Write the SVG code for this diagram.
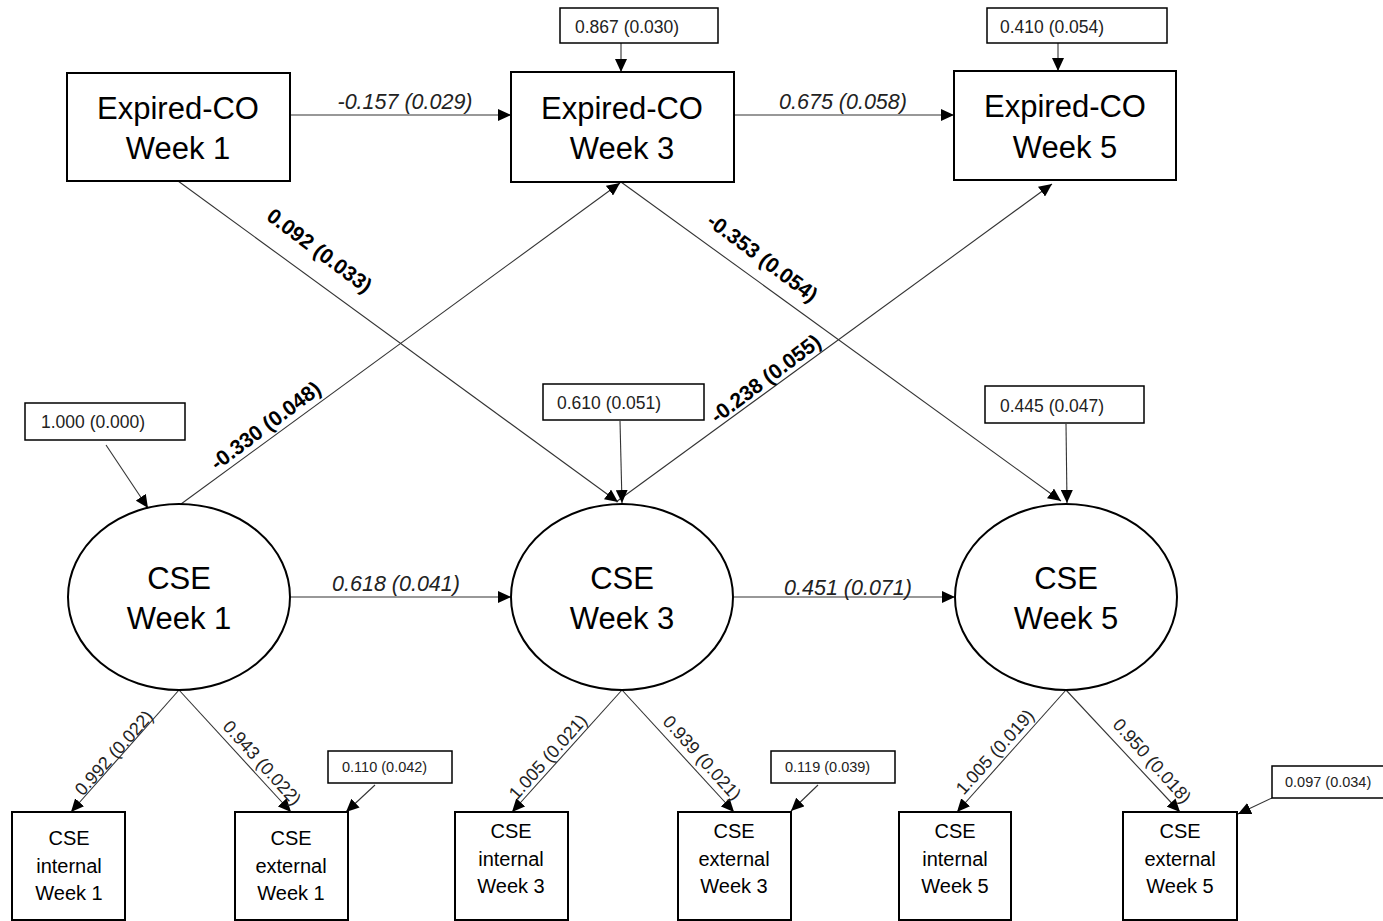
<svg xmlns="http://www.w3.org/2000/svg" width="1383" height="921" viewBox="0 0 1383 921">
<style>
  .box { fill: #fff; stroke: #000; stroke-width: 2; }
  .res { fill: #fff; stroke: #000; stroke-width: 1.5; }
  .big { font-family: "Liberation Sans", Arial, sans-serif; font-size: 31px; fill: #000; text-anchor: middle; }
  .ind { font-family: "Liberation Sans", Arial, sans-serif; font-size: 20px; fill: #000; text-anchor: middle; }
  .rl { font-family: "Liberation Sans", Arial, sans-serif; font-size: 17.5px; fill: #222; }
  .rs { font-family: "Liberation Sans", Arial, sans-serif; font-size: 14.5px; fill: #222; }
  .hl { font-family: "Liberation Sans", Arial, sans-serif; font-size: 21.5px; font-style: italic; fill: #222; text-anchor: middle; }
  .bl { font-family: "Liberation Sans", Arial, sans-serif; font-size: 21px; font-weight: bold; fill: #000; text-anchor: middle; }
  .ll { font-family: "Liberation Sans", Arial, sans-serif; font-size: 18px; fill: #222; text-anchor: middle; }
  .edge { stroke: #333; stroke-width: 1.1; fill: none; marker-end: url(#ah); }
</style>
<defs>
  <marker id="ah" markerUnits="userSpaceOnUse" markerWidth="14" markerHeight="12" refX="13" refY="6" orient="auto">
    <path d="M0,0 L13,6 L0,12 Z" fill="#000"/>
  </marker>
</defs>
<rect x="0" y="0" width="1383" height="921" fill="#fff"/>

<g id="connectors">
  <line class="edge" x1="290" y1="115" x2="511" y2="115"/>
  <line class="edge" x1="734" y1="115" x2="954" y2="115"/>
  <line class="edge" x1="621" y1="43" x2="621" y2="72"/>
  <line class="edge" x1="1058" y1="43" x2="1058" y2="71"/>
  <line class="edge" x1="178" y1="181" x2="618" y2="502"/>
  <line class="edge" x1="181" y1="504" x2="620" y2="183"/>
  <line class="edge" x1="621" y1="182" x2="1061" y2="501"/>
  <line class="edge" x1="616" y1="502" x2="1052" y2="184"/>
  <line class="edge" x1="106" y1="445" x2="148" y2="508"/>
  <line class="edge" x1="620" y1="421" x2="622" y2="503"/>
  <line class="edge" x1="1066" y1="424" x2="1067" y2="503"/>
  <line class="edge" x1="290" y1="597" x2="511" y2="597"/>
  <line class="edge" x1="734" y1="597" x2="955" y2="597"/>
  <line class="edge" x1="179" y1="690" x2="71" y2="812"/>
  <line class="edge" x1="179" y1="690" x2="291" y2="812"/>
  <line class="edge" x1="622" y1="690" x2="512" y2="812"/>
  <line class="edge" x1="622" y1="690" x2="734" y2="812"/>
  <line class="edge" x1="1066" y1="690" x2="957" y2="812"/>
  <line class="edge" x1="1066" y1="690" x2="1180" y2="812"/>
  <line class="edge" x1="375" y1="785" x2="346" y2="812"/>
  <line class="edge" x1="818" y1="785" x2="791" y2="811"/>
  <line class="edge" x1="1272" y1="798" x2="1238" y2="814"/>

  <text class="hl" x="405" y="109">-0.157 (0.029)</text>
  <text class="hl" x="843" y="109">0.675 (0.058)</text>
  <text class="hl" x="396" y="591">0.618 (0.041)</text>
  <text class="hl" x="848" y="595">0.451 (0.071)</text>

  <text class="bl" transform="translate(320,250) rotate(37)" y="8">0.092 (0.033)</text>
  <text class="bl" transform="translate(265,425) rotate(-37)" y="8">-0.330 (0.048)</text>
  <text class="bl" transform="translate(763,257) rotate(37)" y="8">-0.353 (0.054)</text>
  <text class="bl" transform="translate(765,378) rotate(-37)" y="8">-0.238 (0.055)</text>

  <text class="ll" transform="translate(114,753) rotate(-48)" y="6">0.992 (0.022)</text>
  <text class="ll" transform="translate(262,763) rotate(48)" y="6">0.943 (0.022)</text>
  <text class="ll" transform="translate(548,757) rotate(-48)" y="6">1.005 (0.021)</text>
  <text class="ll" transform="translate(702,758) rotate(48)" y="6">0.939 (0.021)</text>
  <text class="ll" transform="translate(995,752) rotate(-48)" y="6">1.005 (0.019)</text>
  <text class="ll" transform="translate(1152,761) rotate(48)" y="6">0.950 (0.018)</text>
</g>

<g id="res-co3"><rect class="res" x="560" y="8" width="158" height="35"/><text class="rl" x="575" y="33">0.867 (0.030)</text></g>
<g id="res-co5"><rect class="res" x="987" y="8" width="180" height="35"/><text class="rl" x="1000" y="33">0.410 (0.054)</text></g>
<g id="res-cse1"><rect class="res" x="25" y="403" width="160" height="37"/><text class="rl" x="41" y="428">1.000 (0.000)</text></g>
<g id="res-cse3"><rect class="res" x="543" y="384" width="161" height="36"/><text class="rl" x="557" y="409">0.610 (0.051)</text></g>
<g id="res-cse5"><rect class="res" x="985" y="386" width="159" height="37"/><text class="rl" x="1000" y="412">0.445 (0.047)</text></g>
<g id="res-ext1"><rect class="res" x="328" y="751" width="124" height="32"/><text class="rs" x="342" y="772">0.110 (0.042)</text></g>
<g id="res-ext3"><rect class="res" x="771" y="751" width="124" height="32"/><text class="rs" x="785" y="772">0.119 (0.039)</text></g>
<g id="res-ext5"><rect class="res" x="1272" y="766" width="113" height="32"/><text class="rs" x="1285" y="787">0.097 (0.034)</text></g>

<g id="co1"><rect class="box" x="67" y="73" width="223" height="108"/><text class="big" x="178" y="119">Expired-CO</text><text class="big" x="178" y="159">Week 1</text></g>
<g id="co3"><rect class="box" x="511" y="72" width="223" height="110"/><text class="big" x="622" y="119">Expired-CO</text><text class="big" x="622" y="159">Week 3</text></g>
<g id="co5"><rect class="box" x="954" y="71" width="222" height="109"/><text class="big" x="1065" y="117">Expired-CO</text><text class="big" x="1065" y="158">Week 5</text></g>

<g id="cse1"><ellipse class="box" cx="179" cy="597" rx="111" ry="93"/><text class="big" x="179" y="589">CSE</text><text class="big" x="179" y="629">Week 1</text></g>
<g id="cse3"><ellipse class="box" cx="622" cy="597" rx="111" ry="93"/><text class="big" x="622" y="589">CSE</text><text class="big" x="622" y="629">Week 3</text></g>
<g id="cse5"><ellipse class="box" cx="1066" cy="597" rx="111" ry="93"/><text class="big" x="1066" y="589">CSE</text><text class="big" x="1066" y="629">Week 5</text></g>

<g id="int1"><rect class="box" x="12" y="812" width="113" height="108"/><text class="ind" x="69" y="845">CSE</text><text class="ind" x="69" y="873">internal</text><text class="ind" x="69" y="900">Week 1</text></g>
<g id="ext1"><rect class="box" x="235" y="812" width="113" height="108"/><text class="ind" x="291" y="845">CSE</text><text class="ind" x="291" y="873">external</text><text class="ind" x="291" y="900">Week 1</text></g>
<g id="int3"><rect class="box" x="455" y="812" width="113" height="108"/><text class="ind" x="511" y="838">CSE</text><text class="ind" x="511" y="866">internal</text><text class="ind" x="511" y="893">Week 3</text></g>
<g id="ext3"><rect class="box" x="678" y="812" width="113" height="108"/><text class="ind" x="734" y="838">CSE</text><text class="ind" x="734" y="866">external</text><text class="ind" x="734" y="893">Week 3</text></g>
<g id="int5"><rect class="box" x="899" y="812" width="112" height="108"/><text class="ind" x="955" y="838">CSE</text><text class="ind" x="955" y="866">internal</text><text class="ind" x="955" y="893">Week 5</text></g>
<g id="ext5"><rect class="box" x="1123" y="812" width="114" height="108"/><text class="ind" x="1180" y="838">CSE</text><text class="ind" x="1180" y="866">external</text><text class="ind" x="1180" y="893">Week 5</text></g>
</svg>
